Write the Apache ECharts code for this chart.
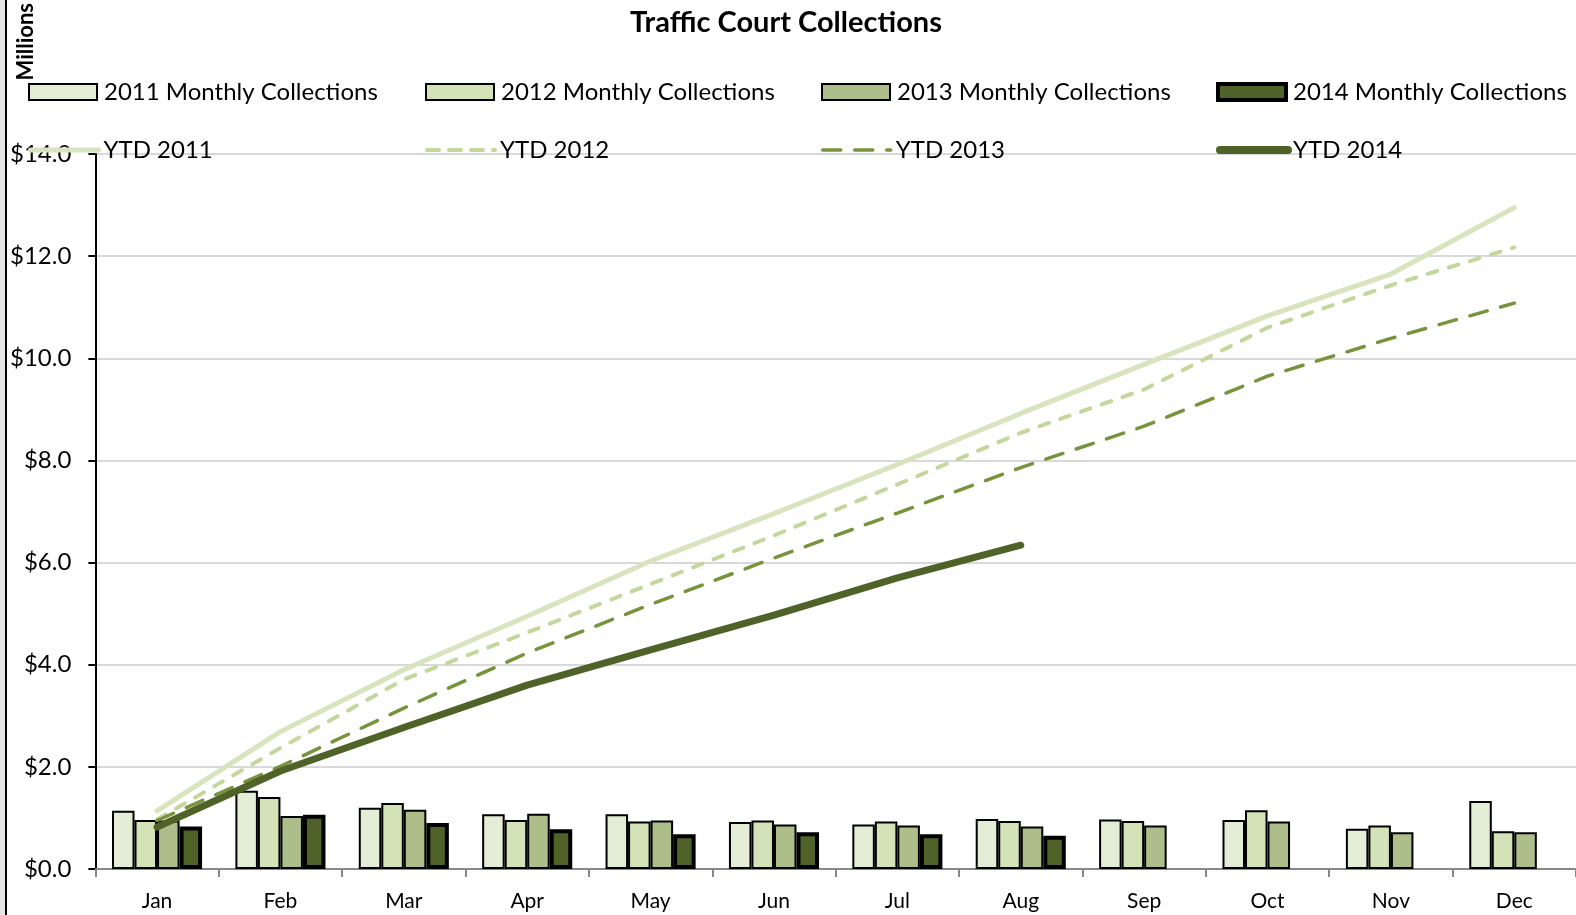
<!DOCTYPE html>
<html>
<head>
<meta charset="utf-8">
<script src="https://cdn.jsdelivr.net/npm/echarts@6/dist/echarts.min.js"></script>
<style>
  html, body { margin: 0; padding: 0; background: #e6e6e6; }
  #chart { position: absolute; left: 5px; top: 0; width: 1571px; height: 915px; background: #fff; border-left: 2px solid #000; box-sizing: border-box; }
</style>
</head>
<body>
<div id="chart"></div>
<script>
// values in millions of dollars
const months = ['Jan', 'Feb', 'Mar', 'Apr', 'May', 'Jun', 'Jul', 'Aug', 'Sep', 'Oct', 'Nov', 'Dec']
const yTicks = [0, 2, 4, 6, 8, 10, 12, 14]

const monthly2011 = [1.14, 1.53, 1.20, 1.07, 1.07, 0.92, 0.87, 0.98, 0.97, 0.96, 0.79, 1.33]
const monthly2012 = [0.96, 1.41, 1.29, 0.96, 0.93, 0.95, 0.93, 0.94, 0.94, 1.15, 0.85, 0.74]
const monthly2013 = [0.95, 1.04, 1.16, 1.08, 0.95, 0.87, 0.85, 0.83, 0.85, 0.93, 0.72, 0.72]
const monthly2014 = [0.83, 1.06, 0.90, 0.78, 0.68, 0.72, 0.68, 0.65]

const ytd2011 = [1.14, 2.69, 3.90, 4.95, 6.03, 6.96, 7.92, 8.92, 9.88, 10.83, 11.65, 12.95]
const ytd2012 = [0.97, 2.37, 3.71, 4.63, 5.58, 6.53, 7.53, 8.54, 9.39, 10.60, 11.43, 12.17]
const ytd2013 = [0.95, 2.01, 3.15, 4.23, 5.18, 6.09, 6.97, 7.86, 8.67, 9.65, 10.39, 11.08]
const ytd2014 = [0.82, 1.92, 2.77, 3.60, 4.29, 4.97, 5.70, 6.34]

const FONT = 'Lato'
const barNames = ['2011 Monthly Collections', '2012 Monthly Collections', '2013 Monthly Collections', '2014 Monthly Collections']
const lineNames = ['YTD 2011', 'YTD 2012', 'YTD 2013', 'YTD 2014']
const barColors = ['#e4edd6', '#d3e2b7', '#adbe8b', '#4f6228']
const lineColors = ['#d7e4bd', '#c3d69b', '#77933c', '#4f6228']
const colLeft = [21, 418, 814, 1209]

let chart = echarts.init(document.getElementById('chart'))

function barSeries (i, data) {
  return {
    name: barNames[i],
    type: 'bar',
    data: data,
    barGap: '0%',
    barCategoryGap: '27%',
    itemStyle: { color: barColors[i], borderColor: '#000', borderWidth: i === 3 ? 4 : 2 },
    emphasis: { disabled: true }
  }
}

function lineSeries (i, data, width, dash) {
  return {
    name: lineNames[i],
    type: 'line',
    data: data,
    symbol: 'none',
    z: 5,
    lineStyle: { color: lineColors[i], width: width, type: dash, cap: 'round' },
    itemStyle: { color: lineColors[i] },
    emphasis: { disabled: true }
  }
}

const legendLineWidth = [5, 4, 3.5, 8]
const legendDash = ['solid', [12, 10], [18, 14], 'solid']
let legends = []
for (let i = 0; i < 4; i++) {
  legends.push({
    left: colLeft[i], top: 80, padding: 0,
    icon: 'rect',
    itemWidth: 68, itemHeight: 16, itemGap: 0,
    itemStyle: { borderColor: '#000', borderWidth: i === 3 ? 4 : 2 },
    textStyle: { fontFamily: FONT, fontSize: 24, color: '#000', padding: [0, 0, 0, 2] },
    data: [barNames[i]]
  })
  legends.push({
    left: colLeft[i], top: 138, padding: 0,
    itemWidth: 68, itemHeight: 16, itemGap: 0,
    itemStyle: { opacity: 0 },
    lineStyle: { width: legendLineWidth[i], type: legendDash[i], cap: 'round', opacity: 1 },
    textStyle: { fontFamily: FONT, fontSize: 24, color: '#000', padding: [0, 0, 0, 0] },
    data: [lineNames[i]]
  })
}

let option = {
  animation: false,
  legend: legends,
  graphic: [{
    type: 'text',
    left: 8, top: 3,
    rotation: Math.PI / 2,
    style: { text: 'Millions', font: 'bold 22px Lato', fill: '#000' }
  }, {
    type: 'text',
    x: 779, y: 8,
    style: { text: 'Traffic Court Collections', font: 'bold 29px Lato', fill: '#000', align: 'center' }
  }],
  grid: { left: 88, right: -2, top: 154, bottom: 46, containLabel: false },
  xAxis: {
    type: 'category',
    data: months,
    axisLine: { lineStyle: { color: '#888', width: 2 } },
    axisTick: { show: true, length: 8, lineStyle: { color: '#888', width: 2 } },
    axisLabel: { fontFamily: FONT, fontSize: 21, color: '#000', margin: 22 }
  },
  yAxis: {
    type: 'value',
    min: yTicks[0], max: yTicks[yTicks.length - 1], interval: 2,
    axisLine: { show: true, lineStyle: { color: '#000', width: 2 } },
    axisTick: { show: true, length: 7, lineStyle: { color: '#000', width: 2 } },
    axisLabel: { fontFamily: FONT, fontSize: 24, color: '#000', margin: 24, formatter: v => '$' + v.toFixed(1) },
    splitLine: { lineStyle: { color: '#d9d9d9', width: 2 } }
  },
  series: [
    barSeries(0, monthly2011),
    barSeries(1, monthly2012),
    barSeries(2, monthly2013),
    barSeries(3, monthly2014),
    lineSeries(0, ytd2011, 5, 'solid'),
    lineSeries(1, ytd2012, 4, [10, 12]),
    lineSeries(2, ytd2013, 3.5, [18, 14]),
    lineSeries(3, ytd2014, 7, 'solid')
  ]
}

chart.setOption(option)
</script>
</body>
</html>
